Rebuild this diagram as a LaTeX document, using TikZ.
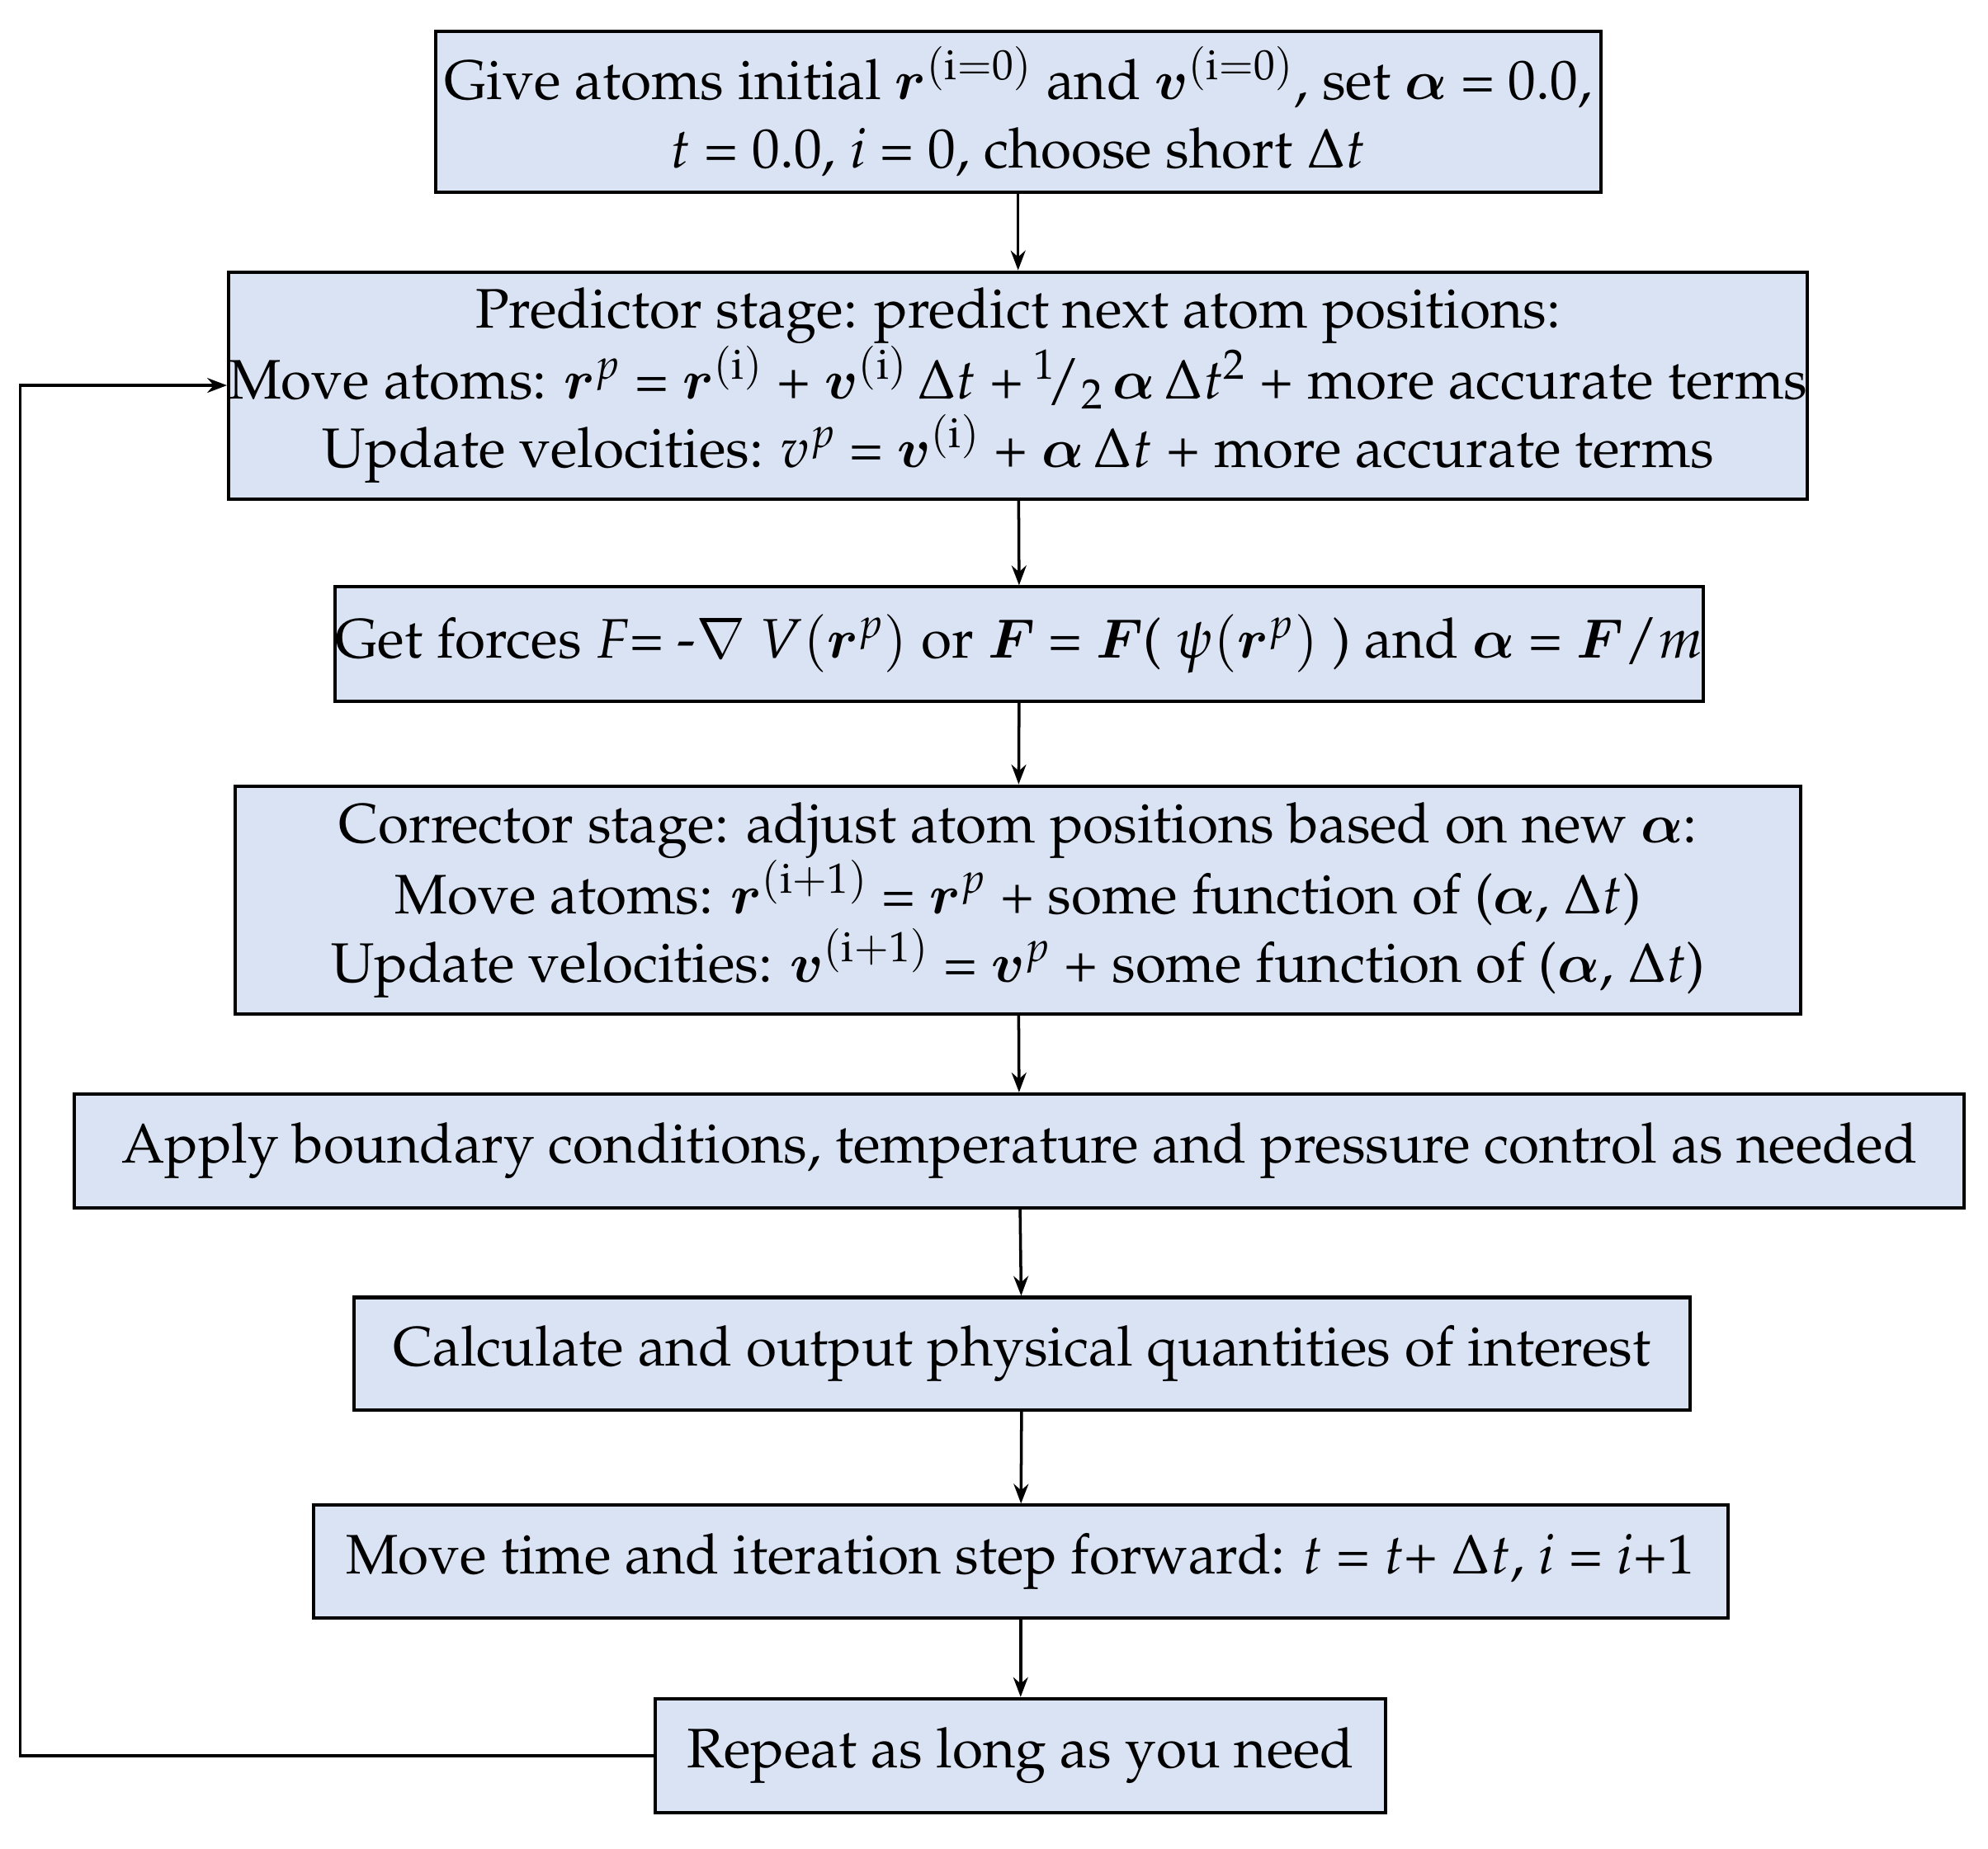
\documentclass[tikz,border=0pt]{standalone}
\usepackage{amsmath,bm}
\usepackage[T1]{fontenc}
\usepackage{mathpazo}
\usetikzlibrary{arrows.meta}
\definecolor{boxblue}{RGB}{218,227,243}
\begin{document}
\begin{tikzpicture}
      [x = 0.02cm, y = -0.02cm,
      flow/.style={-Stealth, line width = 1.3pt},
      mdbox/.style= {
         draw,
         fill = boxblue,
         line width = 1.5pt,
         align = center,
         inner sep = 0pt,
         font = \fontsize{25}{30.7}\selectfont
      }]

      \useasboundingbox (0, 0) rectangle (1568, 1458);

      \node[mdbox, minimum width = 18.38cm, minimum height = 2.54cm] (init) at (803, 88)
         {Give atoms initial $\bm{r}^{(\mathrm{i=0})}$ and $\bm{v}^{(\mathrm{i=0})}$, set $\bm{\alpha}$ = 0.0,\\
          $t$ = 0.0, $i$ = 0, choose short $\Delta t$};
      \node[mdbox, minimum width = 24.70cm, minimum height = 3.58cm] (pred) at (803, 304)
         {Predictor stage: predict next atom positions:\\
          Move atoms: $\bm{r}^{p}$ = $\bm{r}^{(\mathrm{i})}$ + $\bm{v}^{(\mathrm{i})}\,\Delta t$ +$\,{}^{1}\!/_{2}\,\bm{\alpha}\,\Delta t^2$ + more accurate terms\\
          Update velocities: $v^{p}$ = $\bm{v}^{(\mathrm{i})}$ + $\bm{\alpha}\,\Delta t$ + more accurate terms};
      \node[mdbox, minimum width = 21.08cm, minimum height = 1.80cm] (force) at (804, 508)
         {Get forces $F$= -$\nabla$ $V(\bm{r}^{p})$ or $\bm{F}$ = $\bm{F}$( $\psi(\bm{r}^{p})$ ) and $\bm{\alpha}$ = $\bm{F}/m$};
      \node[mdbox, minimum width = 24.70cm, minimum height = 3.60cm] (corr) at (803, 710)
         {Corrector stage: adjust atom positions based on new $\bm{\alpha}$:\\
          Move atoms: $\bm{r}^{(\mathrm{i+1})}$ = $\bm{r}^{p}$ + some function of ($\bm{\alpha}$, $\Delta t$)\\
          Update velocities: $\bm{v}^{(\mathrm{i+1})}$ = $\bm{v}^{p}$ + some function of ($\bm{\alpha}$, $\Delta t$)};
      \node[mdbox, minimum width = 29.82cm, minimum height = 1.80cm] (bound) at (804, 908)
         {Apply boundary conditions, temperature and pressure control as needed};
      \node[mdbox, minimum width = 21.08cm, minimum height = 1.78cm] (calc) at (806, 1068)
         {Calculate and output physical quantities of interest};
      \node[mdbox, minimum width = 22.32cm, minimum height = 1.78cm] (time) at (805, 1232)
         {Move time and iteration step forward: $t$ = $t$+ $\Delta t$, $i$ = $i$+1};
      \node[mdbox, minimum width = 11.52cm, minimum height = 1.80cm] (rep) at (805, 1385)
         {Repeat as long as you need};

      \draw[flow] (init) -- (pred);
      \draw[flow] (pred) -- (force);
      \draw[flow] (force) -- (corr);
      \draw[flow] (corr) -- (bound);
      \draw[flow] (bound) -- (calc);
      \draw[flow] (calc) -- (time);
      \draw[flow] (time) -- (rep);
      \draw[flow] (rep.west) -| (16, 304) -- (pred.west);

   \end{tikzpicture}
\end{document}
